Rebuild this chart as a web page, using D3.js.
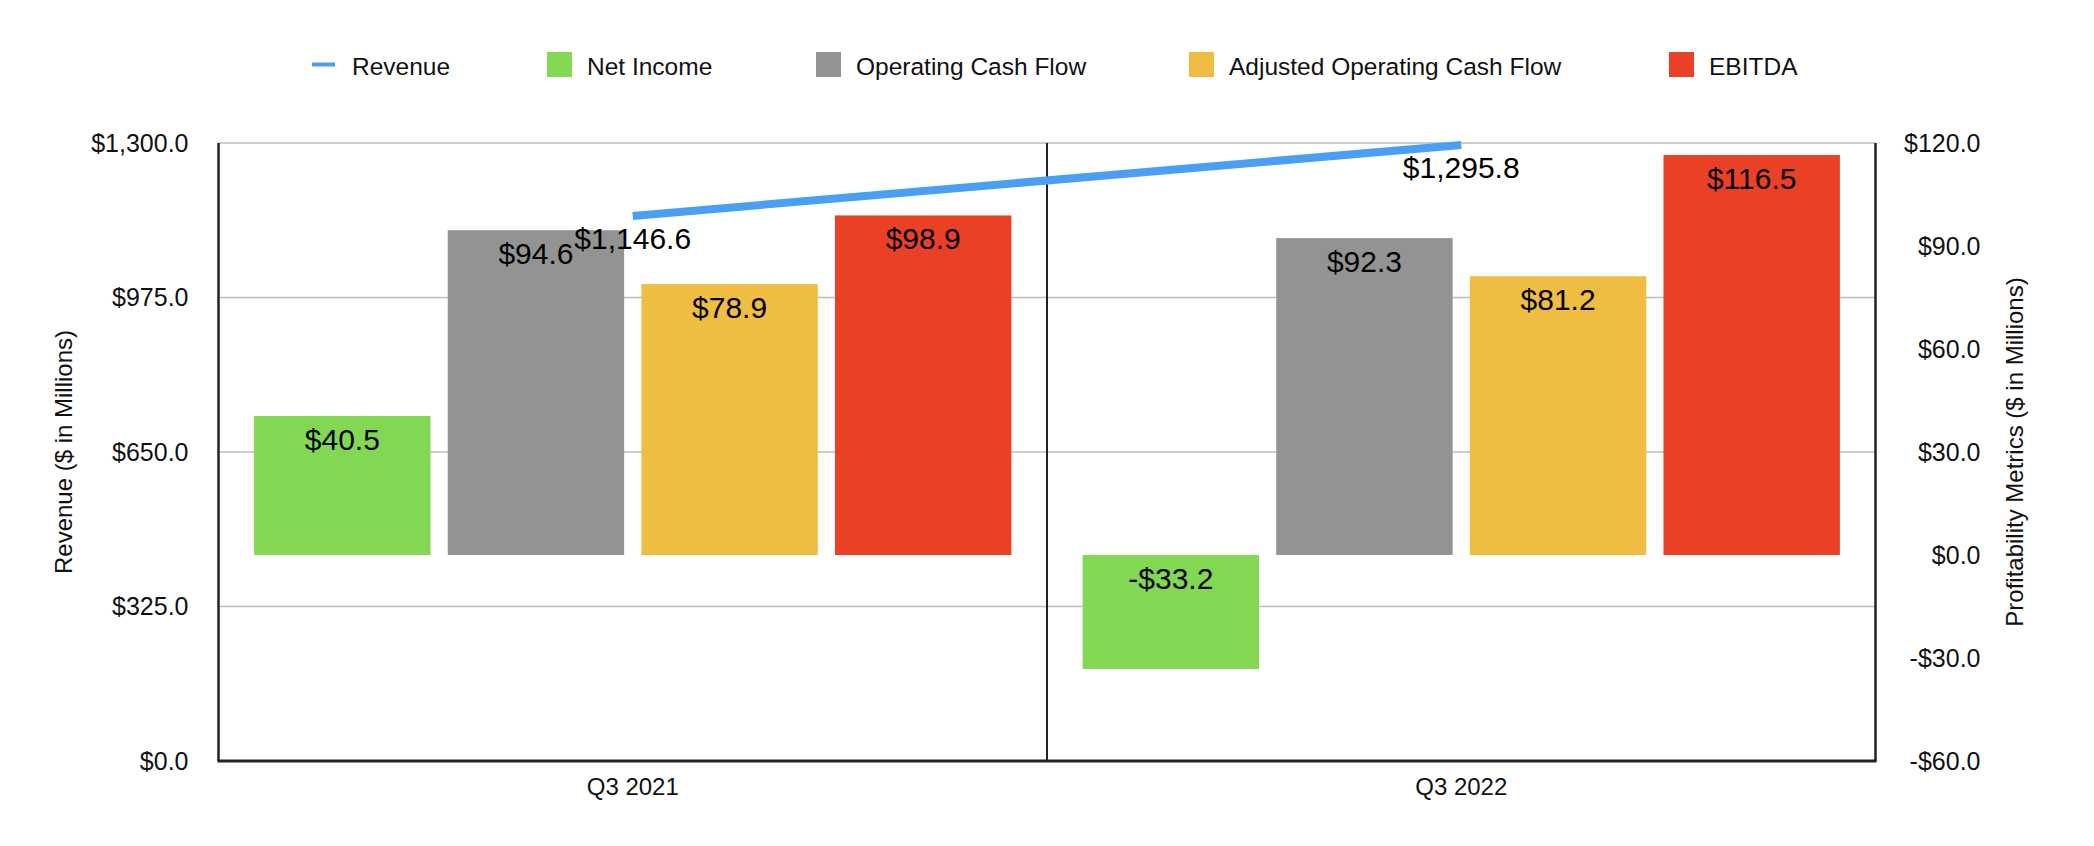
<!DOCTYPE html>
<html>
<head>
<meta charset="utf-8">
<script src="https://cdn.jsdelivr.net/npm/d3@7"></script>
<style>
  html, body { margin: 0; padding: 0; background: #ffffff; }
  svg { display: block; font-family: "Liberation Sans", Arial, Helvetica, sans-serif; }
</style>
</head>
<body>
<svg id="chart" width="2094" height="846"></svg>
<script>
// ---------- data ----------
const categories = ["Q3 2021", "Q3 2022"];
const revenue = [1146.6, 1295.8];
const netIncome = [40.5, -33.2];
const operatingCashFlow = [94.6, 92.3];
const adjustedOperatingCashFlow = [78.9, 81.2];
const ebitda = [98.9, 116.5];
const barSeriesNames = ["Net Income", "Operating Cash Flow", "Adjusted Operating Cash Flow", "EBITDA"];
const legendNames = ["Revenue", "Net Income", "Operating Cash Flow", "Adjusted Operating Cash Flow", "EBITDA"];
const leftTicks = [0, 325, 650, 975, 1300];
const rightTicks = [-60, -30, 0, 30, 60, 90, 120];
const leftTitle = "Revenue ($ in Millions)";
const rightTitle = "Profitability Metrics ($ in Millions)";

const barValues = [netIncome, operatingCashFlow, adjustedOperatingCashFlow, ebitda];
const colors = {
  "Revenue": "#4a9ff5",
  "Net Income": "#82d753",
  "Operating Cash Flow": "#939393",
  "Adjusted Operating Cash Flow": "#eebd41",
  "EBITDA": "#ea4126"
};

// ---------- layout ----------
const svg = d3.select("#chart");
const plot = { left: 218.5, right: 1875.5, top: 143, bottom: 761 };

const x = d3.scaleBand().domain(categories).range([plot.left, plot.right]).paddingInner(0).paddingOuter(0);
const xSub = d3.scaleBand().domain(barSeriesNames).range([0, x.bandwidth()]).paddingInner(0.089).paddingOuter(0.184);
const yL = d3.scaleLinear().domain([0, 1300]).range([plot.bottom, plot.top]);
const yR = d3.scaleLinear().domain([-60, 120]).range([plot.bottom, plot.top]);

const fmt = v => (v < 0 ? "-" : "") + "$" + d3.format(",.1f")(Math.abs(v));

// gridlines (left axis ticks)
svg.append("g").selectAll("line").data(leftTicks.filter(t => t !== 0)).join("line")
  .attr("x1", plot.left).attr("x2", plot.right)
  .attr("y1", d => yL(d)).attr("y2", d => yL(d))
  .attr("stroke", "#bdbdbd").attr("stroke-width", 1.5);

// bars
const rows = [];
categories.forEach((c, i) => barSeriesNames.forEach((s, j) => rows.push({ cat: c, series: s, value: barValues[j][i] })));

svg.append("g").selectAll("rect").data(rows).join("rect")
  .attr("x", d => x(d.cat) + xSub(d.series))
  .attr("width", xSub.bandwidth())
  .attr("y", d => Math.min(yR(0), yR(d.value)))
  .attr("height", d => Math.abs(yR(d.value) - yR(0)))
  .attr("fill", d => colors[d.series]);

// axis frame lines
const frame = svg.append("g").attr("stroke", "#222").attr("fill", "none");
frame.append("line").attr("x1", plot.left).attr("x2", plot.left).attr("y1", plot.top).attr("y2", plot.bottom).attr("stroke-width", 2.5);
frame.append("line").attr("x1", plot.right).attr("x2", plot.right).attr("y1", plot.top).attr("y2", plot.bottom).attr("stroke-width", 2.5);
frame.append("line").attr("x1", plot.left - 1).attr("x2", plot.right + 1).attr("y1", plot.bottom).attr("y2", plot.bottom).attr("stroke-width", 3);
// category divider
categories.slice(1).forEach(c => {
  frame.append("line").attr("x1", x(c)).attr("x2", x(c)).attr("y1", plot.top).attr("y2", plot.bottom).attr("stroke-width", 2);
});

// left axis ticks
const axL = svg.append("g").attr("transform", `translate(${plot.left - 30},0)`)
  .call(d3.axisLeft(yL).tickValues(leftTicks).tickSize(0).tickPadding(0).tickFormat(fmt));
axL.select(".domain").remove();
axL.selectAll("text").attr("font-size", 25).attr("fill", "#111").attr("font-family", null);

// right axis ticks (right-aligned)
const axR = svg.append("g").attr("transform", `translate(${plot.right + 105},0)`)
  .call(d3.axisLeft(yR).tickValues(rightTicks).tickSize(0).tickPadding(0).tickFormat(fmt));
axR.select(".domain").remove();
axR.selectAll("text").attr("font-size", 25).attr("fill", "#111").attr("font-family", null);

// bottom axis categories
const axB = svg.append("g").attr("transform", `translate(0,${plot.bottom})`)
  .call(d3.axisBottom(x).tickSize(0).tickPadding(0));
axB.select(".domain").remove();
axB.selectAll("text").attr("font-size", 24).attr("fill", "#111").attr("font-family", null)
  .attr("dy", null).attr("y", 34);

// axis titles
svg.append("text").attr("transform", `translate(63,${(plot.top + plot.bottom) / 2}) rotate(-90)`)
  .attr("text-anchor", "middle").attr("dominant-baseline", "central")
  .attr("font-size", 24).attr("fill", "#111").text(leftTitle);
svg.append("text").attr("transform", `translate(2014,${(plot.top + plot.bottom) / 2}) rotate(-90)`)
  .attr("text-anchor", "middle").attr("dominant-baseline", "central")
  .attr("font-size", 24).attr("fill", "#111").text(rightTitle);

// revenue line
const line = d3.line().x((d, i) => x(categories[i]) + x.bandwidth() / 2).y(d => yL(d));
svg.append("path").datum(revenue).attr("d", line)
  .attr("fill", "none").attr("stroke", colors["Revenue"]).attr("stroke-width", 8).attr("stroke-linecap", "butt");

// bar value labels
svg.append("g").selectAll("text").data(rows).join("text")
  .attr("x", d => x(d.cat) + xSub(d.series) + xSub.bandwidth() / 2)
  .attr("y", d => Math.min(yR(0), yR(d.value)) + 34)
  .attr("text-anchor", "middle").attr("font-size", 30).attr("fill", "#000")
  .text(d => fmt(d.value));

// revenue labels
svg.append("g").selectAll("text").data(revenue).join("text")
  .attr("x", (d, i) => x(categories[i]) + x.bandwidth() / 2)
  .attr("y", d => yL(d) + 33)
  .attr("text-anchor", "middle").attr("font-size", 30).attr("fill", "#000")
  .text(d => fmt(d));

// legend
const legendX = [312, 547, 816, 1189, 1669];
const lg = svg.append("g");
legendNames.forEach((name, i) => {
  const gx = legendX[i];
  if (name === "Revenue") {
    lg.append("rect").attr("x", gx).attr("y", 62.5).attr("width", 23).attr("height", 4).attr("fill", colors[name]);
  } else {
    lg.append("rect").attr("x", gx).attr("y", 52).attr("width", 25).attr("height", 25).attr("fill", colors[name]);
  }
  lg.append("text").attr("x", gx + 40).attr("y", 75).attr("font-size", 24.5).attr("fill", "#111").text(name);
});
</script>
</body>
</html>
